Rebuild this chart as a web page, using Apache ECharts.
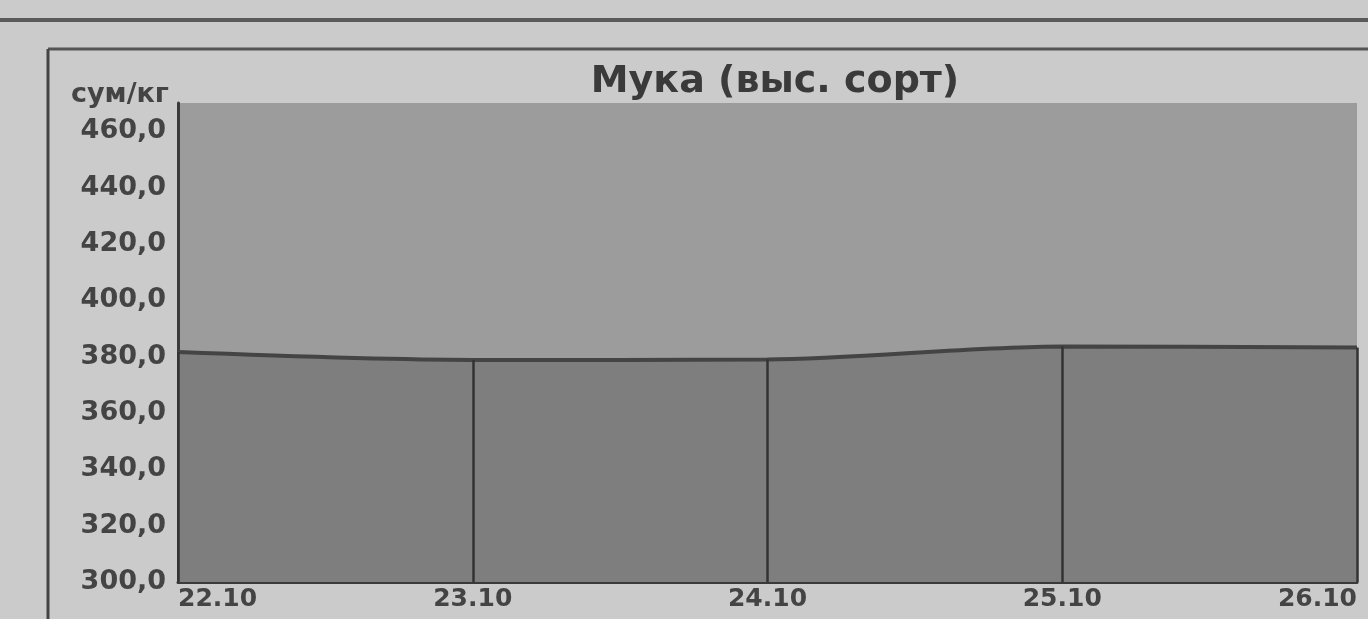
<!DOCTYPE html>
<html>
<head>
<meta charset="utf-8">
<script src="https://cdn.jsdelivr.net/npm/echarts@6/dist/echarts.min.js"></script>
<style>
html,body{margin:0;padding:0;background:#cbcbcb;}
#c{width:1368px;height:619px;}
</style>
</head>
<body>
<div id="c"></div>
<script>
const categories = ['22.10', '23.10', '24.10', '25.10', '26.10'];
const prices = [381.6, 378.8, 379.0, 383.6, 383.2];
const yTicks = { min: 300, max: 470, interval: 20 };
const titleText = 'Мука (выс. сорт)';
const unitText = 'сум/кг';

const chart = echarts.init(document.getElementById('c'));
const dropLines = categories.map((c, i) => [
  { coord: [c, yTicks.min] },
  { coord: [c, prices[i]] }
]);

chart.setOption({
  backgroundColor: '#cbcbcb',
  animation: false,
  title: [
    { text: titleText, left: 770, textAlign: 'center', top: 58,
      textStyle: { fontFamily: 'DejaVu Sans', fontWeight: 'bold', fontSize: 38, color: '#3a3a3a' } },
    { text: unitText, left: 66, top: 76,
      textStyle: { fontFamily: 'DejaVu Sans', fontWeight: 'bold', fontSize: 27, color: '#444' } }
  ],
  grid: { left: 178, right: 11, top: 103, bottom: 37, show: true, backgroundColor: '#9c9c9c', borderWidth: 0 },
  xAxis: {
    type: 'category', data: categories, boundaryGap: false,
    axisLine: { lineStyle: { color: '#3a3a3a', width: 3 } },
    axisTick: { show: false },
    axisLabel: { fontFamily: 'DejaVu Sans', fontWeight: 'bold', fontSize: 25, color: '#444', margin: 5,
      alignMinLabel: 'left', alignMaxLabel: 'right' },
    splitLine: { show: false }
  },
  yAxis: {
    type: 'value', min: yTicks.min, max: yTicks.max, interval: yTicks.interval,
    axisLine: { show: true, lineStyle: { color: '#3a3a3a', width: 3 } },
    axisTick: { show: false },
    splitLine: { show: false },
    axisLabel: { showMaxLabel: false, fontFamily: 'DejaVu Sans', fontWeight: 'bold', fontSize: 27, color: '#444', margin: 12,
      formatter: v => v.toFixed(1).replace('.', ',') }
  },
  series: [{
    type: 'line', data: prices, smooth: 0.3, symbol: 'none',
    lineStyle: { color: '#444', width: 4 },
    areaStyle: { color: '#7e7e7e', opacity: 1 },
    markLine: {
      silent: true, symbol: 'none', label: { show: false },
      lineStyle: { color: '#333', width: 2.5, type: 'solid' },
      data: dropLines
    }
  }],
  graphic: [
    { type: 'line', shape: { x1: 0, y1: 20, x2: 1368, y2: 20 }, style: { stroke: '#5a5a5a', lineWidth: 4 } },
    { type: 'line', shape: { x1: 48, y1: 49, x2: 1368, y2: 49 }, style: { stroke: '#555', lineWidth: 3 } },
    { type: 'line', shape: { x1: 48, y1: 49, x2: 48, y2: 619 }, style: { stroke: '#444', lineWidth: 3 } }
  ]
});
</script>
</body>
</html>
